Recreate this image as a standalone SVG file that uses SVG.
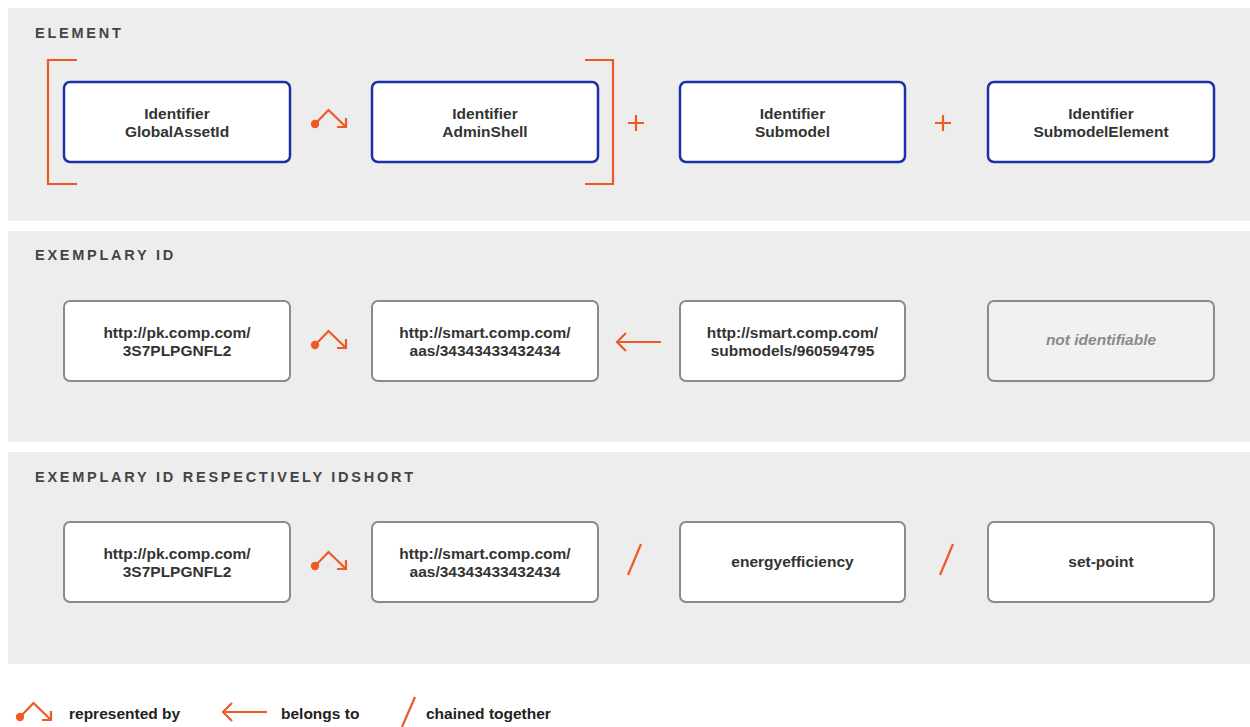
<svg xmlns="http://www.w3.org/2000/svg" width="1250" height="727" viewBox="0 0 1250 727">
<defs>
<style>
.panel{fill:#ededed}
.head{font-family:"Liberation Sans",Arial,sans-serif;font-weight:bold;font-size:14.5px;letter-spacing:2.75px;fill:#444}
.bb{fill:#fff;stroke:#1e30a8;stroke-width:2.5}
.gb{fill:#fff;stroke:#8a8a8a;stroke-width:2}
.gb2{fill:#f1f1f1;stroke:#8a8a8a;stroke-width:2}
.t{font-family:"Liberation Sans",Arial,sans-serif;font-weight:bold;font-size:15.5px;fill:#333;text-anchor:middle}
.ti{font-family:"Liberation Sans",Arial,sans-serif;font-weight:bold;font-style:italic;font-size:15.5px;fill:#8a8a8a;text-anchor:middle}
.lg{font-family:"Liberation Sans",Arial,sans-serif;font-weight:bold;font-size:15.5px;fill:#222}
.o{fill:none;stroke:#ee5a24;stroke-width:2.2}
.od{fill:#ee5a24}
</style>
<g id="rep">
<circle class="od" cx="0" cy="0" r="4.2"/>
<path class="o" d="M0 0 L13.5 -14 L31 3 M22 3 H31 V-6"/>
</g>
<g id="belong">
<path class="o" d="M0 0 H44 M9 -9 L0 0 L9 9"/>
</g>
</defs>
<rect width="1250" height="727" fill="#fff"/>
<g id="panels">
<rect class="panel" x="8" y="8" width="1242" height="213"/>
<rect class="panel" x="8" y="231" width="1242" height="211"/>
<rect class="panel" x="8" y="452" width="1242" height="212"/>
<text class="head" x="35" y="38">ELEMENT</text>
<text class="head" x="35" y="260">EXEMPLARY ID</text>
<text class="head" x="35" y="482">EXEMPLARY ID RESPECTIVELY IDSHORT</text>
</g>
<g id="n1"><rect class="bb" x="64" y="82" width="226" height="80" rx="6"/><text class="t" x="177" y="119">Identifier</text><text class="t" x="177" y="137">GlobalAssetId</text></g>
<g id="n2"><rect class="bb" x="372" y="82" width="226" height="80" rx="6"/><text class="t" x="485" y="119">Identifier</text><text class="t" x="485" y="137">AdminShell</text></g>
<g id="n3"><rect class="bb" x="680" y="82" width="225" height="80" rx="6"/><text class="t" x="792.5" y="119">Identifier</text><text class="t" x="792.5" y="137">Submodel</text></g>
<g id="n4"><rect class="bb" x="988" y="82" width="226" height="80" rx="6"/><text class="t" x="1101" y="119">Identifier</text><text class="t" x="1101" y="137">SubmodelElement</text></g>
<g id="n5"><rect class="gb" x="64" y="301" width="226" height="80" rx="6"/><text class="t" x="177" y="338">http://pk.comp.com/</text><text class="t" x="177" y="356">3S7PLPGNFL2</text></g>
<g id="n6"><rect class="gb" x="372" y="301" width="226" height="80" rx="6"/><text class="t" x="485" y="338">http://smart.comp.com/</text><text class="t" x="485" y="356">aas/34343433432434</text></g>
<g id="n7"><rect class="gb" x="680" y="301" width="225" height="80" rx="6"/><text class="t" x="792.5" y="338">http://smart.comp.com/</text><text class="t" x="792.5" y="356">submodels/960594795</text></g>
<g id="n8"><rect class="gb2" x="988" y="301" width="226" height="80" rx="6"/><text class="ti" x="1101" y="345">not identifiable</text></g>
<g id="n9"><rect class="gb" x="64" y="522" width="226" height="80" rx="6"/><text class="t" x="177" y="559">http://pk.comp.com/</text><text class="t" x="177" y="577">3S7PLPGNFL2</text></g>
<g id="n10"><rect class="gb" x="372" y="522" width="226" height="80" rx="6"/><text class="t" x="485" y="559">http://smart.comp.com/</text><text class="t" x="485" y="577">aas/34343433432434</text></g>
<g id="n11"><rect class="gb" x="680" y="522" width="225" height="80" rx="6"/><text class="t" x="792.5" y="567">energyefficiency</text></g>
<g id="n12"><rect class="gb" x="988" y="522" width="226" height="80" rx="6"/><text class="t" x="1101" y="567">set-point</text></g>
<g id="connectors">
<path class="o" d="M77 60 H48 V184 H77"/>
<path class="o" d="M585 60 H613 V184 H585"/>
<path class="o" d="M636 115 V131 M628 123 H644"/>
<path class="o" d="M943 115 V131 M935 123 H951"/>
<use href="#rep" x="315" y="124"/>
<use href="#rep" x="315" y="345"/>
<use href="#rep" x="315" y="566"/>
<use href="#belong" x="617" y="342"/>
<path class="o" d="M628 575 L641 544"/>
<path class="o" d="M940 575 L953 544"/>
</g>
<g id="legend">
<use href="#rep" x="20" y="717"/>
<text class="lg" x="69" y="719">represented by</text>
<use href="#belong" x="223" y="712"/>
<text class="lg" x="281" y="719">belongs to</text>
<path class="o" d="M402 727 L415 697"/>
<text class="lg" x="426" y="719">chained together</text>
</g>
</svg>
